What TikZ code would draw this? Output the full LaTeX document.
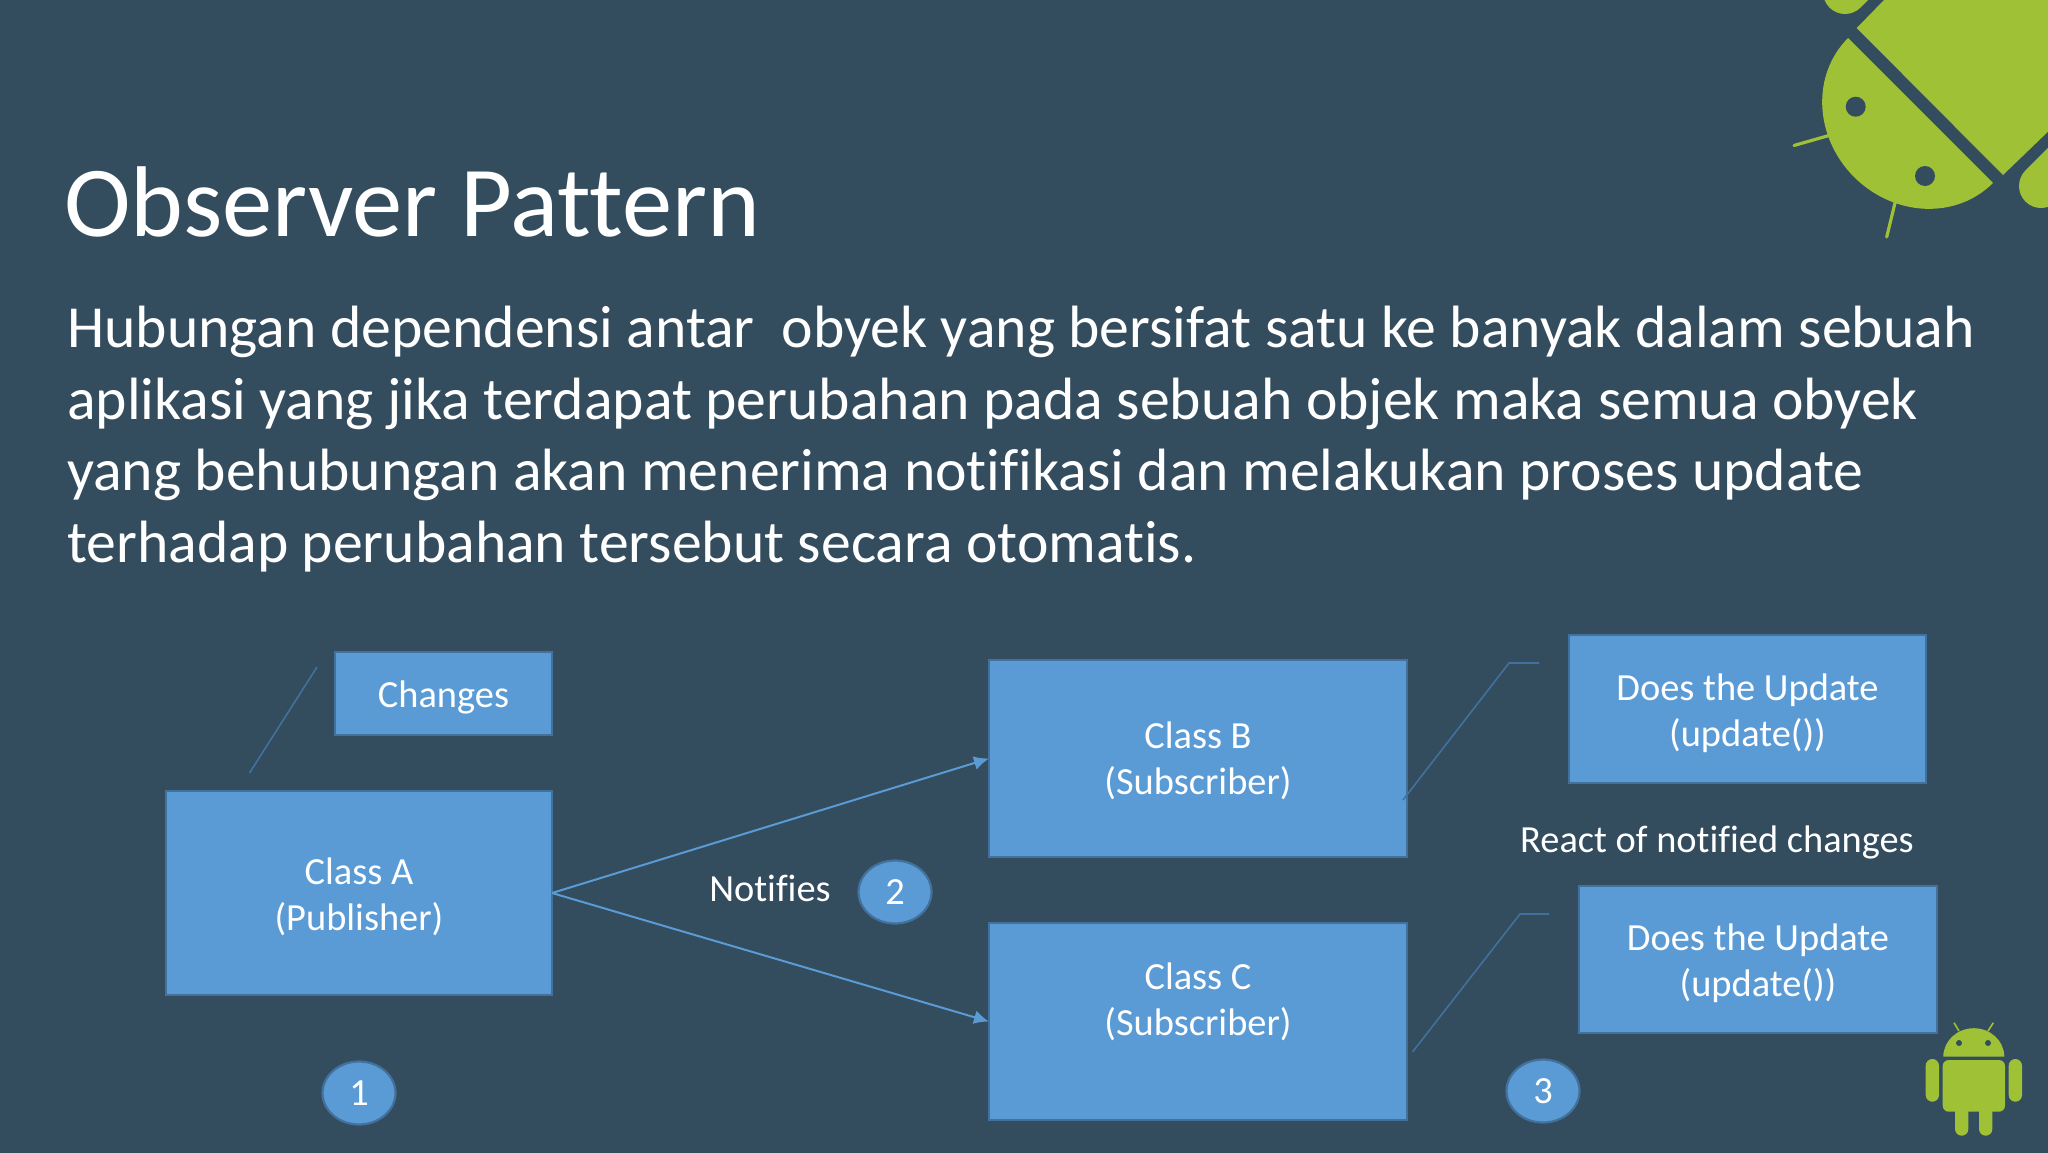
\documentclass[tikz,border=0pt]{standalone}
\usepackage{fontspec}
\setmainfont[Ligatures=NoCommon]{Carlito}
\usetikzlibrary{arrows.meta,shapes.geometric}
\definecolor{bgc}{HTML}{334C5E}
\definecolor{boxc}{HTML}{5B9BD5}
\definecolor{edgec}{HTML}{41719C}
\definecolor{droid}{HTML}{9FC136}
\tikzset{
  x=1pt,y=-1pt,
  boxnode/.style={draw=edgec,line width=2.2pt,fill=boxc,text=white,align=center,outer sep=0pt,inner sep=0pt,
    font=\fontsize{38.4}{45.8}\selectfont},
  plaintext/.style={text=white,inner sep=0pt,font=\fontsize{38.4}{45.8}\selectfont},
  badge/.style={ellipse,draw=edgec,line width=2.2pt,fill=boxc,text=white,inner sep=0pt,outer sep=0pt,
    minimum width=73pt,minimum height=63pt,font=\fontsize{38.4}{45.8}\selectfont},
  flow/.style={draw=boxc,line width=2pt,-{Latex[length=15pt,width=14pt]}},
  leader/.style={draw=edgec,line width=1.6pt},
}
\begin{document}
\begin{tikzpicture}
\useasboundingbox (0,0) rectangle (2048,1152);
\fill[bgc] (-3,-3) rectangle (2051,1155);

% text
\node[text=white,anchor=base west,inner sep=0pt,font=\fontsize{100.5}{110}\selectfont] (title) at (64,236) {Observer Pattern};
\node[text=white,anchor=north west,inner sep=0pt,align=left,font=\fontsize{59.7}{71.6}\selectfont] (para) at (67,306)
 {Hubungan dependensi antar\ \ obyek yang bersifat satu ke banyak dalam sebuah\\
  aplikasi yang jika terdapat perubahan pada sebuah objek maka semua obyek\\
  yang behubungan akan menerima notifikasi dan melakukan proses update\\
  terhadap perubahan tersebut secara otomatis.};

% boxes
\node[boxnode,minimum width=386pt,minimum height=204pt] (classA) at (359,893) {};
\node[plaintext,align=center] (classAtext) at (359,897) {Class A\\(Publisher)};
\node[boxnode,minimum width=217pt,minimum height=83pt] (changes) at (443.5,693.5) {};
\node[plaintext] (changestext) at (443.5,697.5) {Changes};
\node[boxnode,minimum width=418pt,minimum height=197pt] (classB) at (1198,758.5) {};
\node[plaintext,align=center] (classBtext) at (1198,761) {Class B\\(Subscriber)};
\node[boxnode,minimum width=418pt,minimum height=197pt] (classC) at (1198,1021.5) {};
\node[plaintext,align=center] (classCtext) at (1198,1002) {Class C\\(Subscriber)};
\node[boxnode,minimum width=357pt,minimum height=148pt] (updB) at (1747.5,709) {};
\node[plaintext,align=center] (updBtext) at (1747.5,713) {Does the Update\\(update())};
\node[boxnode,minimum width=358pt,minimum height=147pt] (updC) at (1758,959.5) {};
\node[plaintext,align=center] (updCtext) at (1758,963.5) {Does the Update\\(update())};

% badges
\node[badge] (one) at (359,1093) {1};
\node[badge] (two) at (895,892) {2};
\node[badge] (three) at (1543,1091) {3};
\node[plaintext] (notifies) at (770,888) {Notifies};
\node[plaintext] (react) at (1717,842) {React of notified changes};

% connectors
\draw[flow] (classA.east) -- (classB.west);
\draw[flow] (classA.east) -- (classC.west);
\coordinate (la) at (249.5,773);
\coordinate (lb) at (317,667);
\draw[leader] (la) -- (lb);
\coordinate (ba) at (1403,800);
\coordinate (bb) at (1509,663);
\coordinate (bc) at (1539,663);
\draw[leader] (ba) -- (bb) -- (bc);
\coordinate (ca) at (1412.5,1052);
\coordinate (cb) at (1520,914);
\coordinate (cc) at (1549,914);
\draw[leader] (ca) -- (cb) -- (cc);

% large android, top right
\begin{scope}
\clip (0,0) rectangle (2048,1152);
\fill[droid] (1856.7,28) -- (1884,0) -- (2048,0) -- (2048,131.7) -- (2003,175) -- cycle;
\begin{scope}[shift={(1920.5,110.5)},rotate=-45]
\fill[droid] (-102.5,0) arc[start angle=180,end angle=0,x radius=102.5,y radius=94] -- cycle;
\end{scope}
\fill[bgc] (1855.7,106.7) circle[radius=10];
\fill[bgc] (1925,176) circle[radius=10];
\draw[droid,line width=3.2pt,line cap=round] (1830,135.2) -- (1794,145.5);
\draw[droid,line width=3.2pt,line cap=round] (1895.7,200) -- (1886.7,237);
\draw[droid,line width=44pt,line cap=round] (1845,-8) -- (1900,-63);
\draw[droid,line width=44pt,line cap=round] (2041,186) -- (2100,127);
\end{scope}

% small android, bottom right
\fill[droid] (1943.3,1056.7) arc[start angle=180,end angle=360,x radius=30.5,y radius=28.5] -- cycle;
\fill[bgc] (1959,1043) circle[radius=3];
\fill[bgc] (1988,1043) circle[radius=3];
\draw[droid,line width=1.6pt] (1959,1031) -- (1954,1022.7);
\draw[droid,line width=1.6pt] (1988,1031) -- (1993.3,1022.7);
\fill[droid,rounded corners=6pt] (1942.7,1060) -- (2005,1060) -- (2005,1111.7) -- (1942.7,1111.7) -- cycle;
\fill[droid,rounded corners=6.6pt] (1925.7,1059) rectangle (1939,1101.7);
\fill[droid,rounded corners=6.6pt] (2008.7,1059) rectangle (2022,1101.7);
\fill[droid,rounded corners=6.6pt] (1955,1100) rectangle (1968.3,1135.7);
\fill[droid,rounded corners=6.6pt] (1979,1100) rectangle (1992.3,1135.7);
\end{tikzpicture}
\end{document}
